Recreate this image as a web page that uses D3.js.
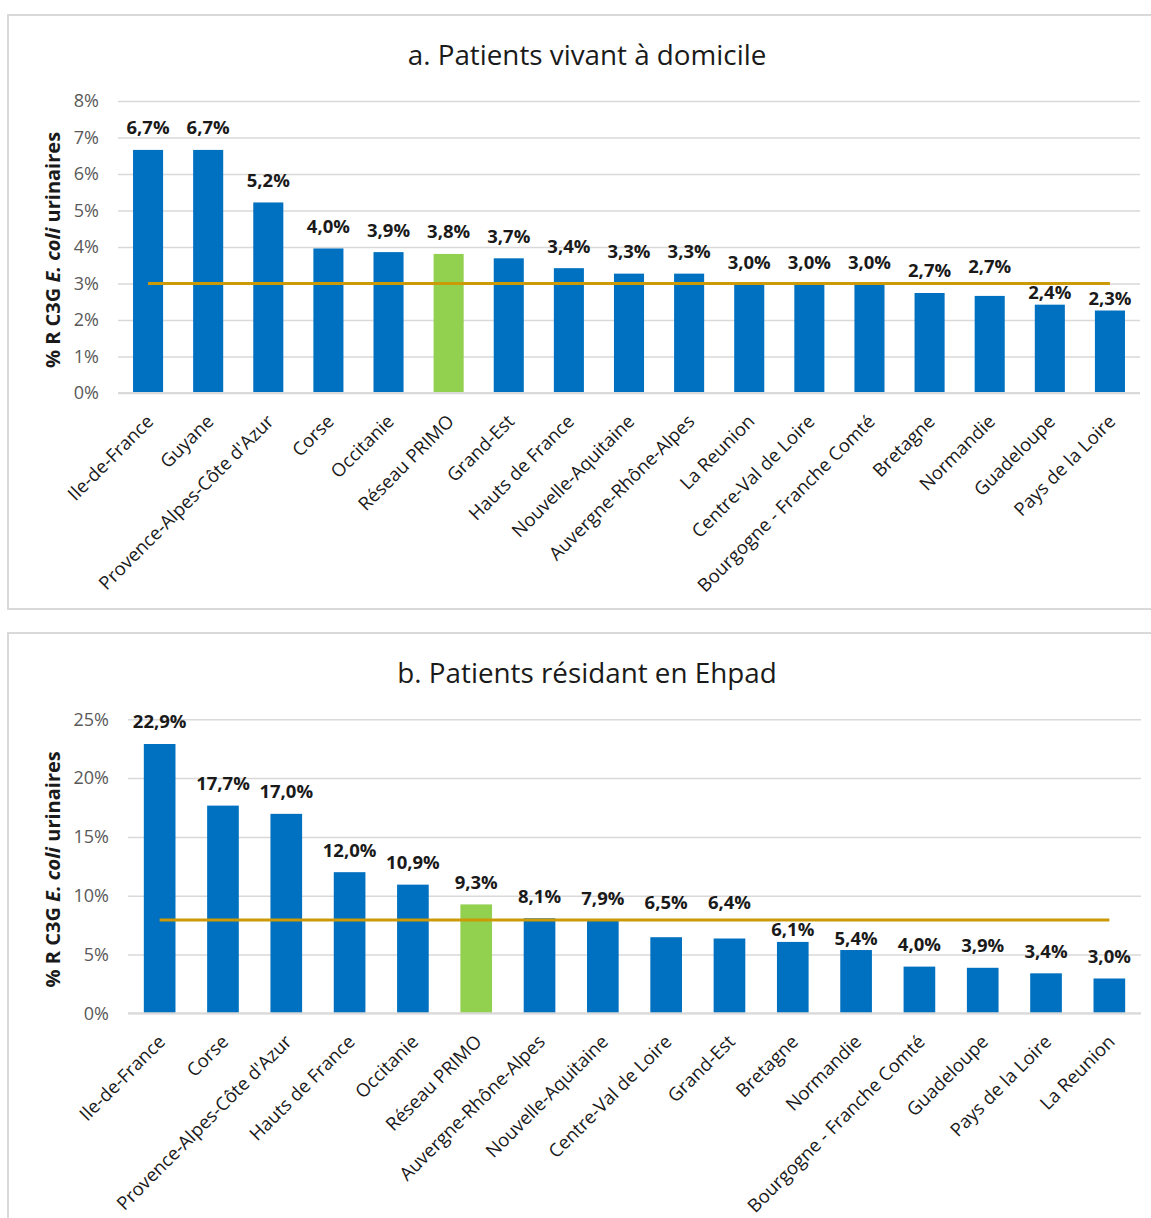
<!DOCTYPE html>
<html>
<head>
<meta charset="utf-8">
<script src="https://cdn.jsdelivr.net/npm/d3@7"></script>
<style>
  html, body { margin: 0; padding: 0; background: #ffffff; }
  svg, svg text { font-family: "Open Sans", "Noto Sans", "Liberation Sans", sans-serif; }
</style>
</head>
<body>
<script>
// ---- Panel a: patients living at home ----
const regionsHome = [
  "Ile-de-France", "Guyane", "Provence-Alpes-Côte d'Azur", "Corse", "Occitanie",
  "Réseau PRIMO", "Grand-Est", "Hauts de France", "Nouvelle-Aquitaine",
  "Auvergne-Rhône-Alpes", "La Reunion", "Centre-Val de Loire",
  "Bourgogne - Franche Comté", "Bretagne", "Normandie", "Guadeloupe", "Pays de la Loire"
];
const valuesHome = [6.66, 6.66, 5.22, 3.96, 3.86, 3.81, 3.69, 3.42, 3.27, 3.27, 2.98, 2.98, 2.98, 2.74, 2.66, 2.42, 2.26];
const ticksHome = [0, 1, 2, 3, 4, 5, 6, 7, 8];
const refHome = 3.0;

// ---- Panel b: patients living in nursing homes (Ehpad) ----
const regionsEhpad = [
  "Ile-de-France", "Corse", "Provence-Alpes-Côte d'Azur", "Hauts de France", "Occitanie",
  "Réseau PRIMO", "Auvergne-Rhône-Alpes", "Nouvelle-Aquitaine", "Centre-Val de Loire",
  "Grand-Est", "Bretagne", "Normandie", "Bourgogne - Franche Comté", "Guadeloupe",
  "Pays de la Loire", "La Reunion"
];
const valuesEhpad = [22.9, 17.66, 16.96, 12.0, 10.94, 9.26, 8.08, 7.92, 6.47, 6.36, 6.07, 5.38, 3.97, 3.87, 3.4, 2.96];
const ticksEhpad = [0, 5, 10, 15, 20, 25];
const refEhpad = 7.94;

const network = "Réseau PRIMO";
const titles = ["a. Patients vivant à domicile", "b. Patients résidant en Ehpad"];

// ---- styling ----
const BLUE = "#0070C0", GREEN = "#92D050", GOLD = "#cc9a06";
const GRID = "#d9d9d9", TICK_TXT = "#595959", TXT = "#1a1a1a";
const FONT = "'Open Sans', 'Noto Sans', 'Liberation Sans', sans-serif";

const W = 1151, H = 1218;
const svg = d3.select("body").append("svg").attr("width", W).attr("height", H)
  .attr("font-family", FONT);

const fmtLabel = v => d3.format(".1f")(v).replace(".", ",") + "%";

function drawPanel(cfg) {
  const { frame, plot, cats, vals, ticks, ref, title } = cfg;
  const g = svg.append("g");

  // chart frame
  g.append("rect")
    .attr("x", frame.x).attr("y", frame.y)
    .attr("width", frame.w).attr("height", frame.h)
    .attr("fill", "#fff").attr("stroke", GRID).attr("stroke-width", 2);

  // title
  g.append("text")
    .attr("x", 587).attr("y", frame.y + 50)
    .attr("text-anchor", "middle")
    .attr("font-size", 27.8).attr("fill", TXT)
    .text(title);

  const x = d3.scaleBand().domain(cats).range([plot.left, plot.right])
    .paddingInner(0.5).paddingOuter(0.25);
  const y = d3.scaleLinear().domain([0, d3.max(ticks)]).range([plot.bottom, plot.top]);

  // gridlines + y tick labels
  const yAxis = g.append("g")
    .attr("transform", `translate(${plot.left},0)`)
    .call(d3.axisLeft(y).tickValues(ticks).tickSize(-(plot.right - plot.left))
      .tickPadding(19).tickFormat(d => d + "%"))
    .attr("font-family", FONT).attr("font-size", 18);
  yAxis.select(".domain").remove();
  yAxis.selectAll(".tick line").attr("stroke", GRID).attr("stroke-width", 1.5);
  yAxis.selectAll(".tick text").attr("fill", TICK_TXT);

  // y-axis title
  const yt = g.append("text")
    .attr("transform", `translate(53,${(plot.top + plot.bottom) / 2 + 3}) rotate(-90)`)
    .attr("text-anchor", "middle").attr("dy", "0.35em")
    .attr("font-size", 20).attr("font-weight", "bold").attr("fill", TXT);
  yt.append("tspan").text("% R C3G ");
  yt.append("tspan").attr("font-style", "italic").text("E. coli");
  yt.append("tspan").text(" urinaires");

  // bars
  const data = cats.map((c, i) => ({ cat: c, v: vals[i] }));
  g.append("g").selectAll("rect").data(data).join("rect")
    .attr("x", d => x(d.cat)).attr("width", x.bandwidth())
    .attr("y", d => y(d.v)).attr("height", d => y(0) - y(d.v))
    .attr("fill", d => d.cat === network ? GREEN : BLUE);

  // baseline redrawn above bar bottoms
  g.append("line")
    .attr("x1", plot.left).attr("x2", plot.right)
    .attr("y1", y(0)).attr("y2", y(0))
    .attr("stroke", GRID).attr("stroke-width", 2);

  // reference line from first to last category
  const refPts = [cats[0], cats[cats.length - 1]].map(c => [x(c) + x.bandwidth() / 2, y(ref)]);
  g.append("path").attr("d", d3.line()(refPts))
    .attr("stroke", GOLD).attr("stroke-width", 3).attr("fill", "none");

  // value labels, nudged off the reference line when they would cross it
  const lineY = y(ref);
  const labelY = d => {
    const top = y(d.v);
    let c = top - 22;
    if (Math.abs(c - lineY) < 10) {
      c = (top - 12 > lineY + 9) ? top - 12 : lineY - 17;
    }
    return c;
  };
  g.append("g").selectAll("text").data(data).join("text")
    .attr("x", d => x(d.cat) + x.bandwidth() / 2)
    .attr("y", labelY).attr("dy", "0.35em")
    .attr("text-anchor", "middle")
    .attr("font-size", 18.5).attr("font-weight", "bold").attr("fill", TXT)
    .text(d => fmtLabel(d.v));

  // rotated category labels
  const xAxis = g.append("g")
    .attr("transform", `translate(0,${plot.bottom})`)
    .call(d3.axisBottom(x).tickSize(0).tickPadding(0))
    .attr("font-family", FONT).attr("font-size", 18.5);
  xAxis.select(".domain").remove();
  xAxis.selectAll(".tick text")
    .attr("x", 0).attr("y", 0).attr("dy", "0.35em")
    .attr("text-anchor", "end")
    .attr("transform", "translate(2,25) rotate(-45)")
    .attr("fill", TXT);
}

drawPanel({
  frame: { x: 8, y: 15, w: 1160, h: 594 },
  plot: { left: 118, right: 1140, top: 101, bottom: 393 },
  cats: regionsHome, vals: valuesHome, ticks: ticksHome, ref: refHome, title: titles[0]
});

drawPanel({
  frame: { x: 8, y: 633, w: 1160, h: 700 },
  plot: { left: 128, right: 1141, top: 719.3, bottom: 1013.3 },
  cats: regionsEhpad, vals: valuesEhpad, ticks: ticksEhpad, ref: refEhpad, title: titles[1]
});
</script>
</body>
</html>
